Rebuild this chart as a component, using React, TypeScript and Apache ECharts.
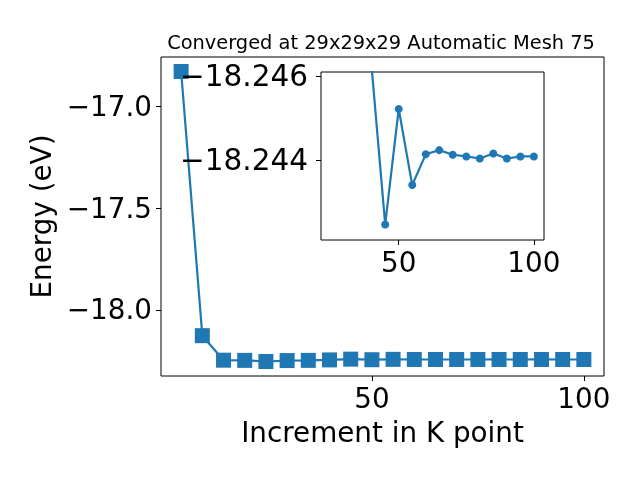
import React, { useEffect, useRef } from "react";
import * as echarts from "echarts";

const KPOINTS = [5, 10, 15, 20, 25, 30, 35, 40, 45, 50, 55, 60, 65, 70, 75, 80, 85, 90, 95, 100];
const ENERGY = [
  -16.828, -18.127, -18.2475, -18.2485, -18.254, -18.2495, -18.2485, -18.2462,
  -18.24247, -18.24522, -18.24341, -18.24414, -18.24424, -18.24413, -18.24409,
  -18.24404, -18.24416, -18.24404, -18.24409, -18.24409,
];
const INSET_FIRST_K = 25;
const X_TICKS = [50, 100];
const Y_TICKS = [-18.0, -17.5, -17.0];
const INSET_Y_TICKS = [-18.246, -18.244];
const INSET_Y_RANGE = [-18.2461, -18.2421];
const TITLE = "Converged at 29x29x29 Automatic Mesh 75";
const X_NAME = "Increment in K point";
const Y_NAME = "Energy (eV)";

const BLUE = "#1f77b4";
const FONT = "DejaVu Sans";
const minus = (s: string) => s.replace("-", "\u2212");

function pad(lo: number, hi: number) {
  const m = (hi - lo) * 0.05;
  return [lo - m, hi + m];
}

export default function App() {
  const ref = useRef<HTMLDivElement>(null);
  useEffect(() => {
    if (!ref.current) return;
    const chart = echarts.init(ref.current, null, { renderer: "svg" });
    const mainData = KPOINTS.map((k, i) => [k, ENERGY[i]]);
    const insetData = mainData.filter((d) => d[0] >= INSET_FIRST_K);
    const [xMin, xMax] = pad(Math.min(...KPOINTS), Math.max(...KPOINTS));
    const [yMin, yMax] = pad(Math.min(...ENERGY), Math.max(...ENERGY));
    const insetKs = insetData.map((d) => d[0]);
    const [ixMin, ixMax] = pad(Math.min(...insetKs), Math.max(...insetKs));

    const tickLabel = { fontFamily: FONT, fontSize: 27.8, color: "#000" };
    chart.setOption({
      animation: false,
      title: {
        text: TITLE,
        left: 376,
        textAlign: "center",
        top: 28,
        textStyle: { fontFamily: FONT, fontSize: 19.4, fontWeight: "normal", color: "#000" },
      },
      grid: [
        { left: 161, top: 57, width: 443, height: 319, show: true, borderColor: "#000", borderWidth: 1, backgroundColor: "transparent" },
        { left: 321, top: 72, width: 223, height: 168, show: true, borderColor: "#000", borderWidth: 1, backgroundColor: "#fff", z: 5 },
      ],
      xAxis: [
        {
          type: "value", gridIndex: 0, min: xMin, max: xMax,
          name: X_NAME, nameLocation: "middle", nameGap: 42,
          nameTextStyle: { fontFamily: FONT, fontSize: 27.8, color: "#000" },
          axisLine: { show: false }, splitLine: { show: false },
          axisTick: { show: true, inside: false, length: 5, lineStyle: { color: "#000", width: 1 }, customValues: X_TICKS },
          axisLabel: { ...tickLabel, margin: 8, customValues: X_TICKS, formatter: (v: number) => String(v) },
        },
        {
          type: "value", gridIndex: 1, min: ixMin, max: ixMax, z: 10,
          axisLine: { show: false }, splitLine: { show: false },
          axisTick: { show: true, inside: false, length: 5, lineStyle: { color: "#000", width: 1 }, customValues: X_TICKS },
          axisLabel: { ...tickLabel, margin: 8, customValues: X_TICKS, formatter: (v: number) => String(v) },
        },
      ],
      yAxis: [
        {
          type: "value", gridIndex: 0, min: yMin, max: yMax,
          name: Y_NAME, nameLocation: "middle", nameGap: 100, nameRotate: 90,
          nameTextStyle: { fontFamily: FONT, fontSize: 27.8, color: "#000" },
          axisLine: { show: false }, splitLine: { show: false },
          axisTick: { show: true, inside: false, length: 5, lineStyle: { color: "#000", width: 1 }, customValues: Y_TICKS },
          axisLabel: { ...tickLabel, margin: 9, customValues: Y_TICKS, formatter: (v: number) => minus(v.toFixed(1)) },
        },
        {
          type: "value", gridIndex: 1, min: INSET_Y_RANGE[0], max: INSET_Y_RANGE[1], inverse: true, z: 10,
          axisLine: { show: false }, splitLine: { show: false },
          axisTick: { show: true, inside: false, length: 5, lineStyle: { color: "#000", width: 1 }, customValues: INSET_Y_TICKS },
          axisLabel: { ...tickLabel, fontSize: 29.5, margin: 13, customValues: INSET_Y_TICKS, formatter: (v: number) => minus(v.toFixed(3)) },
        },
      ],
      series: [
        {
          type: "line", xAxisIndex: 0, yAxisIndex: 0, data: mainData,
          symbol: "rect", symbolSize: 15, showSymbol: true,
          itemStyle: { color: BLUE }, lineStyle: { color: BLUE, width: 2.2 }, z: 2,
        },
        {
          type: "line", xAxisIndex: 1, yAxisIndex: 1, data: insetData, clip: true,
          symbol: "circle", symbolSize: 8, showSymbol: true,
          itemStyle: { color: BLUE }, lineStyle: { color: BLUE, width: 2.2 }, z: 8,
        },
      ],
    });
    return () => chart.dispose();
  }, []);
  return <div ref={ref} style={{ position: "fixed", left: 0, top: 0, width: 640, height: 480 }} />;
}
